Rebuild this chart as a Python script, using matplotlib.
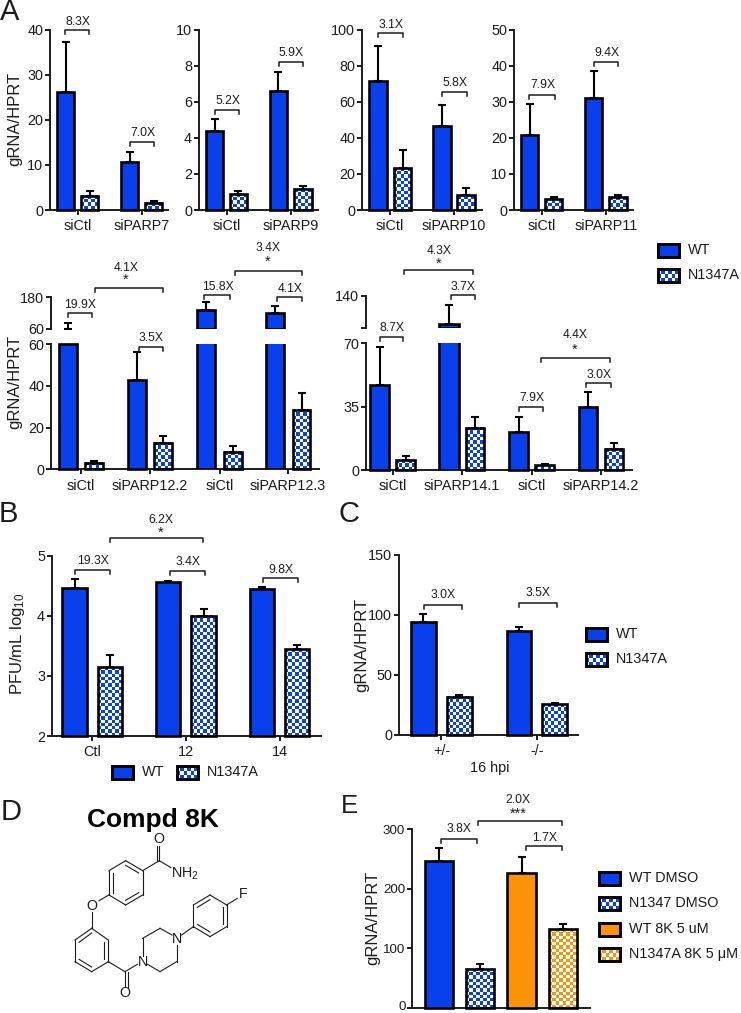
import numpy as np
import matplotlib
matplotlib.use('Agg')
import matplotlib.pyplot as plt
from matplotlib.colors import to_rgb

plt.rcParams['font.family'] = ['Liberation Sans', 'DejaVu Sans']
plt.rcParams['mathtext.fontset'] = 'custom'
plt.rcParams['mathtext.rm'] = 'Liberation Sans'
plt.rcParams['mathtext.default'] = 'regular'

W, H = 741, 1013
BLUE = '#0840ee'
ORANGE = '#fb9208'
DARK = '#1c1c1c'

# panel A, top row
a1_labels = ['siCtl', 'siPARP7']
a1_vals = [26.2, 3.2, 10.7, 1.6]
a1_tops = [37.2, 4.2, 12.9, 2.0]
a2_labels = ['siCtl', 'siPARP9']
a2_vals = [4.37, 0.88, 6.57, 1.14]
a2_tops = [5.03, 1.03, 7.64, 1.35]
a3_labels = ['siCtl', 'siPARP10']
a3_vals = [71.4, 23, 46.3, 8.1]
a3_tops = [90.8, 33, 58.3, 12]
a4_labels = ['siCtl', 'siPARP11']
a4_vals = [20.9, 3.0, 30.9, 3.5]
a4_tops = [29.5, 3.6, 38.6, 4.1]

# panel A, broken axis row
a5_labels = ['siCtl', 'siPARP12.2', 'siCtl', 'siPARP12.3']
a5_vals = [60, 3.2, 43, 12.5, 133, 8.5, 119, 28.5]
a5_tops = [84, 3.8, 56, 16, 163, 11, 148, 36.5]
a6_labels = ['siCtl', 'siPARP14.1', 'siCtl', 'siPARP14.2']
a6_vals = [47, 5.5, 78, 23.3, 21, 2.7, 35, 11.8]
a6_tops = [68, 7.5, 119, 29.5, 29.5, 3.5, 43.2, 15]

# panel B, C, E
b_labels = ['Ctl', '12', '14']
b_vals = [4.457, 3.14, 4.56, 4.0, 4.445, 3.44]
b_tops = [4.62, 3.35, 4.585, 4.11, 4.48, 3.51]
c_labels = ['+/-', '-/-']
c_vals = [94, 32, 86.7, 25.5]
c_tops = [100.8, 33.3, 90, 26.7]
e_vals = [247, 65, 226.6, 131.5]
e_tops = [268, 74, 253.5, 140.5]

fig = plt.figure(figsize=(W / 100, H / 100), dpi=100)


def make_ax(x0, x1, ybot, ytop, ymin, ymax, yticks, ylabels=None, bottom=True, tick_size=10.4):
    ax = fig.add_axes([x0 / W, 1 - ybot / H, (x1 - x0) / W, (ybot - ytop) / H])
    ax.set_xlim(x0, x1)
    ax.set_ylim(ymin, ymax)
    ax.patch.set_alpha(0)
    for s in ['top', 'right']:
        ax.spines[s].set_visible(False)
    for s in ['left', 'bottom']:
        ax.spines[s].set_linewidth(1.4)
        ax.spines[s].set_color(DARK)
    if not bottom:
        ax.spines['bottom'].set_visible(False)
    ax.set_yticks(yticks)
    ax.set_yticklabels(ylabels if ylabels else [str(t) for t in yticks])
    ax.tick_params(axis='y', length=3.8, width=1.4, labelsize=tick_size, pad=1.2, color=DARK, labelcolor=DARK)
    ax.tick_params(axis='x', length=3.8, width=1.4, labelsize=10.4, pad=3.0, color=DARK, labelcolor=DARK)
    ax.set_xticks([])
    return ax


def checker(ax, x0, x1, y0, y1, color, cell=3.3):
    # checker fill as a small image, cell is in pixels
    xl, yl = ax.get_xlim(), ax.get_ylim()
    p0 = ax.transData.transform((x0, y0))
    p1 = ax.transData.transform((x1, y1))
    nx = max(1, int(round(abs(p1[0] - p0[0]) / cell)))
    ny = max(1, int(round(abs(p1[1] - p0[1]) / cell)))
    yy, xx = np.mgrid[0:ny, 0:nx]
    m = (xx + yy) % 2 == 0
    img = np.ones((ny, nx, 3))
    img[m] = to_rgb(color)
    ax.imshow(img, extent=(x0, x1, y0, y1), aspect='auto', interpolation='nearest', zorder=1)
    ax.set_xlim(xl)
    ax.set_ylim(yl)


def draw_bars(ax, edges, vals, tops, colors, base, limit=None, upper=False):
    # edges: (left, right) pixel x of each bar, every second bar is the checker one
    for i, (l, r) in enumerate(edges):
        v, t = vals[i], tops[i]
        c = colors[i % len(colors)]
        m = (l + r) / 2
        checked = i % 2 == 1
        if upper and t <= base:
            continue
        ax.errorbar([m], [v], yerr=[[0], [t - v]], fmt='none', ecolor='black', elinewidth=1.5,
                    capsize=3.2, capthick=1.5, zorder=2)
        if upper and v <= base:
            continue
        if checked:
            checker(ax, l, r, base, min(v, limit) if limit else v, c)
        b = ax.bar([m], [v - base], width=r - l, bottom=base, facecolor='none' if checked else c,
                   edgecolor='black', linewidth=1.9, zorder=3)
        if not upper and (limit is None or v <= limit):
            b[0].set_clip_on(False)


def set_groups(ax, edges, labels):
    n = len(edges) // len(labels)
    mids = [(edges[i * n][0] + edges[i * n + n - 1][1]) / 2 for i in range(len(labels))]
    ax.set_xticks(mids)
    ax.set_xticklabels(labels)


# top row of panel A
for box, edges, labs, vals, tops, ymax, yt in [
    ((50, 168), [(57, 74), (81, 98), (121, 138), (145, 162)], a1_labels, a1_vals, a1_tops, 40, [0, 10, 20, 30, 40]),
    ((199, 318), [(206, 223), (230, 247), (270, 287), (294, 312)], a2_labels, a2_vals, a2_tops, 10, [0, 2, 4, 6, 8, 10]),
    ((362, 482), [(369, 387), (394, 411), (433, 451), (457, 475)], a3_labels, a3_vals, a3_tops, 100, [0, 20, 40, 60, 80, 100]),
    ((514, 633), [(521, 538), (545, 562), (585, 602), (609, 627)], a4_labels, a4_vals, a4_tops, 50, [0, 10, 20, 30, 40, 50]),
]:
    ax = make_ax(box[0], box[1], 210, 29.5, 0, ymax, yt)
    draw_bars(ax, edges, vals, tops, [BLUE], 0)
    set_groups(ax, edges, labs)

# broken axis panels
edges5 = [(59, 77), (85, 103), (128, 146), (154, 172), (197, 215), (224, 242), (266, 284), (293, 310)]
lo = make_ax(51, 319, 469.3, 344, 0, 60, [0, 20, 40, 60])
hi = make_ax(51, 319, 329, 297.3, 60, 180, [60, 180], bottom=False)
draw_bars(lo, edges5, a5_vals, a5_tops, [BLUE], 0, limit=60)
draw_bars(hi, edges5, a5_vals, a5_tops, [BLUE], 60, limit=180, upper=True)
set_groups(lo, edges5, a5_labels)

edges6 = [(370, 389), (396, 415), (439, 459), (466, 484), (509, 528), (535, 554), (579, 597), (605, 623)]
lo = make_ax(366, 632, 470, 343.3, 0, 70, [0, 35, 70])
hi = make_ax(366, 632, 327.7, 295.7, 70, 140, [70, 140], ['', '140'], bottom=False)
draw_bars(lo, edges6, a6_vals, a6_tops, [BLUE], 0, limit=70)
draw_bars(hi, edges6, a6_vals, a6_tops, [BLUE], 70, limit=140, upper=True)
set_groups(lo, edges6, a6_labels)

# panel B
edges_b = [(62, 87), (98, 122), (156, 180), (191, 216), (250, 274), (285, 309)]
ax = make_ax(52, 321, 736, 555.7, 2, 5, [2, 3, 4, 5])
draw_bars(ax, edges_b, b_vals, b_tops, [BLUE], 2)
set_groups(ax, edges_b, b_labels)

# panel C
edges_c = [(411, 436), (447, 472), (507, 531), (542, 567)]
ax = make_ax(399, 578, 735, 555, 0, 150, [0, 50, 100, 150])
draw_bars(ax, edges_c, c_vals, c_tops, [BLUE], 0)
set_groups(ax, edges_c, c_labels)

# panel E, its 0 label sits on the picture edge so it goes in the overlay below
edges_e = [(425, 453), (466, 494), (507, 536), (549, 577)]
ax = make_ax(412, 590, 1007.7, 829, 0, 300, [0, 100, 200, 300], ['', '100', '200', '300'], tick_size=9.6)
draw_bars(ax, edges_e, e_vals, e_tops, [BLUE, BLUE, ORANGE, ORANGE], 0)

# overlay in pixel coords for annotations, legends and the structure
ov = fig.add_axes([0, 0, 1, 1])
ov.set_xlim(0, W)
ov.set_ylim(H, 0)
ov.axis('off')
ov.patch.set_alpha(0)


def txt(x, y, s, size=8.7, **kw):
    kw.setdefault('ha', 'center')
    kw.setdefault('va', 'center')
    kw.setdefault('color', DARK)
    ov.text(x, y, s, fontsize=size, **kw)


txt(405.5, 1010, '0', size=9.6, ha='right', va='baseline')

# x0, x1, y, label, label y
brackets = [
    (65, 89, 30, '8.3X', 22), (130, 154, 142, '7.0X', 133), (215, 239, 110, '5.2X', 101), (279, 303, 62, '5.9X', 53),
    (378, 403, 33, '3.1X', 25), (442, 467, 92, '5.8X', 83), (529, 555, 95, '7.9X', 85), (594, 618, 62, '9.4X', 53),
    (68, 92, 313, '19.9X', 305), (139, 163, 347, '3.5X', 338), (204, 230, 295, '15.8X', 287), (277, 302, 297, '4.1X', 289),
    (380, 403, 337, '8.7X', 328), (451, 475, 295, '3.7X', 287), (519, 543, 407, '7.9X', 398), (586, 611, 383, '3.0X', 375),
    (75, 110, 570, '19.3X', 561), (170, 205, 571, '3.4X', 562), (263, 298, 578, '9.8X', 570),
    (424, 462, 605, '3.0X', 595), (519, 557, 603, '3.5X', 593),
    (441, 477, 839, '3.8X', 829), (526, 562, 846, '1.7X', 838),
]
# the long ones carry stars: x0, x1, y, label, label x, label y, stars, star y
sig_brackets = [
    (95, 163, 288, '4.1X', 126, 268, '*', 280),
    (235, 302, 271, '3.4X', 268, 248, '*', 262),
    (404, 473, 270, '4.3X', 439, 251, '*', 264),
    (541, 610, 358, '4.4X', 575, 335, '*', 350),
    (110, 203, 538, '6.2X', 161, 520, '*', 533),
    (478, 562, 821, '2.0X', 518, 800, '***', 814),
]


def bracket(x0, x1, y):
    ov.plot([x0, x0, x1, x1], [y + 3.5, y, y, y + 3.5], color=DARK, lw=1.1, solid_joinstyle='round')


for x0, x1, y, s, ly in brackets:
    bracket(x0, x1, y)
    txt((x0 + x1) / 2 + 0.5, ly, s)
for x0, x1, y, s, lx, ly, st, sy in sig_brackets:
    bracket(x0, x1, y)
    txt(lx, ly, s)
    txt(lx, sy, st, size=10.5)

# panel letters
for s, x, y, size in [('A', 10, 12, 21), ('B', 8, 514, 21), ('C', 349, 514, 21), ('D', 11, 812, 21), ('E', 349, 806, 18.5)]:
    txt(x, y, s, size=size)

# y axis titles
for x, y, s in [(15, 119, 'gRNA/HPRT'), (15, 382, 'gRNA/HPRT'), (18, 644, 'PFU/mL log$_{10}$'),
                (362, 645, 'gRNA/HPRT'), (373, 918, 'gRNA/HPRT')]:
    txt(x, y, s, size=12, rotation=90)
txt(490, 768, '16 hpi', size=10.4)


def legend_item(x, y, s, color, checked, tx=None):
    if checked:
        checker(ov, x, x + 21, y + 6.5, y - 6.5, color)
    ov.add_patch(plt.Rectangle((x, y - 6.5), 21, 13, facecolor='none' if checked else color,
                               edgecolor='black', lw=2.1, zorder=3))
    txt(tx if tx else x + 30, y, s, size=10.4, ha='left')


legend_item(658, 250, 'WT', BLUE, False)
legend_item(658, 275, 'N1347A', BLUE, True)
legend_item(112, 772, 'WT', BLUE, False)
legend_item(177, 772, 'N1347A', BLUE, True)
legend_item(586, 634, 'WT', BLUE, False)
legend_item(586, 659, 'N1347A', BLUE, True)
legend_item(599, 878, 'WT DMSO', BLUE, False)
legend_item(599, 903, 'N1347 DMSO', BLUE, True)
legend_item(599, 929, 'WT 8K 5 uM', ORANGE, False)
legend_item(599, 954, 'N1347A 8K 5 μM', ORANGE, True)

txt(153, 820, 'Compd 8K', size=19, fontweight='bold', color='black')
bonds = [
    # top ring
    (377, 242, 428, 272), (428, 272, 428, 345), (428, 345, 377, 375), (377, 375, 327, 345), (327, 345, 327, 272),
    (327, 272, 377, 242), (377, 256, 416, 279), (416, 338, 377, 361), (339, 338, 339, 279),
    # amide
    (428, 272, 478, 242), (478, 242, 478, 197), (470, 242, 470, 197), (478, 242, 513, 263),
    # ether
    (327, 345, 297, 362), (275, 395, 275, 445),
    # lower ring
    (275, 445, 325, 480), (325, 480, 325, 545), (325, 545, 275, 575), (275, 575, 225, 545), (225, 545, 225, 480),
    (225, 480, 275, 445), (313, 487, 313, 538), (275, 561, 237, 538), (237, 487, 275, 459),
    # carbonyl
    (325, 545, 375, 575), (375, 575, 375, 622), (383, 575, 383, 622), (375, 575, 412, 553),
    # piperazine
    (428, 528, 428, 475), (428, 475, 480, 445), (480, 445, 516, 465), (530, 495, 530, 545), (530, 545, 480, 575),
    (480, 575, 443, 553),
    # fluorophenyl
    (545, 465, 580, 440), (580, 440, 580, 375), (580, 375, 630, 345), (630, 345, 680, 375), (680, 375, 680, 440),
    (680, 440, 630, 470), (630, 470, 580, 440), (592, 382, 630, 359), (668, 382, 668, 433), (630, 456, 592, 433),
    (680, 375, 712, 355),
]
for x0, y0, x1, y1 in bonds:
    ov.plot([x0 / 3, x1 / 3], [780 + y0 / 3, 780 + y1 / 3], color=DARK, lw=0.8)
for x, y, s in [(478, 178, 'O'), (275, 377, 'O'), (375, 640, 'O'), (428, 545, 'N'), (530, 478, 'N'), (730, 343, 'F')]:
    txt(x / 3, 780 + y / 3, s, size=10.3)
txt(514 / 3, 780 + 282 / 3, 'NH$_2$', size=10.3, ha='left')

fig.savefig('out.png', dpi=100)
